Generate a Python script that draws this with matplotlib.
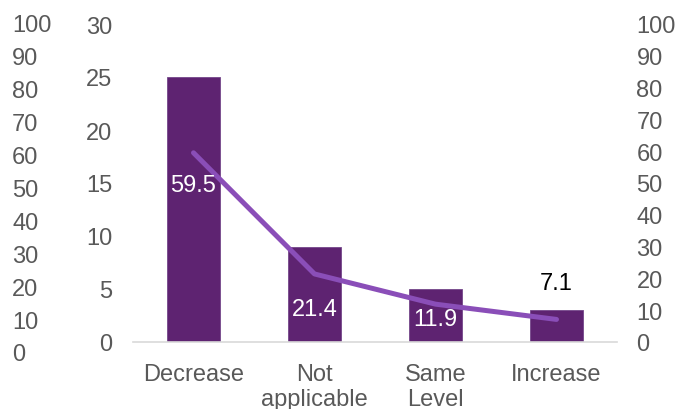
import matplotlib.pyplot as plt
import numpy as np

plt.rcParams['font.family'] = ['Liberation Sans', 'DejaVu Sans']

categories = ['Decrease', 'Not\napplicable', 'Same\nLevel', 'Increase']
counts = [25, 9, 5, 3]
percents = [59.5, 21.4, 11.9, 7.1]
label_offsets = [-23, -25, -11, 26]  # points, below/above the line point
label_colors = ['white', 'white', 'white', 'black']

bar_color = '#5E2371'
line_color = '#8A4EB8'
tick_color = '#595959'
fs = 17

W, H = 678, 410
fig = plt.figure(figsize=(W / 100, H / 100), dpi=100)

# main axes: bars on 0-30
ax = fig.add_axes([133 / W, 67 / H, 484 / W, 318 / H])
x = np.arange(len(categories))
ax.bar(x, counts, width=0.43, color=bar_color, edgecolor='#74468a', linewidth=0.6, zorder=2)
ax.set_xlim(-0.5, 3.5)
ax.set_ylim(0, 30)
ax.set_yticks(range(0, 31, 5))
ax.set_xticks(x)
ax.set_xticklabels(categories, linespacing=1.17)
for s in ['top', 'right', 'left']:
    ax.spines[s].set_visible(False)
ax.spines['bottom'].set_color('#d9d9d9')
ax.spines['bottom'].set_linewidth(1.2)
ax.tick_params(axis='x', length=0, pad=15, labelsize=fs, labelcolor=tick_color)
ax.tick_params(axis='y', length=0, pad=15, labelsize=fs, labelcolor=tick_color)

# right axis: line on 0-100
ax2 = ax.twinx()
ax2.plot(x, percents, color=line_color, linewidth=3.6, solid_capstyle='round', zorder=3)
ax2.set_ylim(0, 100)
ax2.set_yticks(range(0, 101, 10))
for s in ax2.spines.values():
    s.set_visible(False)
ax2.tick_params(axis='y', length=0, pad=14, labelsize=fs, labelcolor=tick_color)
for xi, p, off, c in zip(x, percents, label_offsets, label_colors):
    ax2.annotate(f'{p:.1f}', (xi, p), xytext=(0, off), textcoords='offset points',
                 ha='center', va='center', fontsize=fs, color=c, zorder=4)

# extra far-left axis 0-100
ax3 = fig.add_axes([0, 57 / H, 0.0001, 329 / H])
ax3.set_ylim(0, 100)
ax3.set_yticks(range(0, 101, 10))
ax3.set_xticks([])
ax3.patch.set_visible(False)
for s in ax3.spines.values():
    s.set_visible(False)
ax3.yaxis.tick_right()
ax3.tick_params(axis='y', length=0, pad=8.6, labelsize=fs, labelcolor=tick_color)

fig.savefig('out.png', dpi=100)
